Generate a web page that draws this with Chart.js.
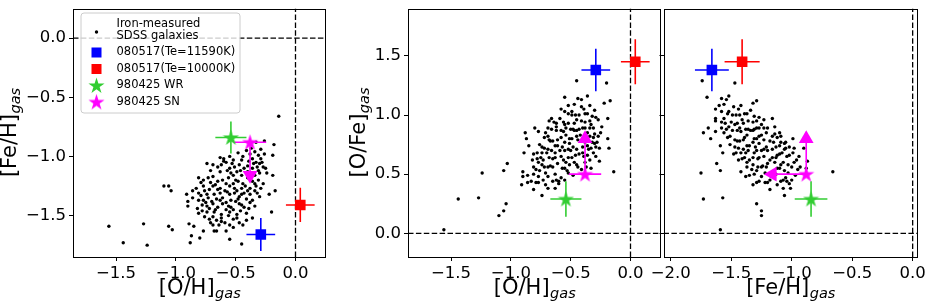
<!DOCTYPE html>
<html>
<head>
<meta charset="utf-8">
<script src="https://cdn.jsdelivr.net/npm/chart.js@4.4.0/dist/chart.umd.min.js"></script>
<style>
  body { margin: 0; background: #fff; width: 926px; height: 306px; overflow: hidden; position: relative; }
  canvas { position: absolute; top: 0; }
</style>
</head>
<body>
<canvas id="p1" width="340" height="306" style="left:0"></canvas>
<canvas id="p2" width="330" height="306" style="left:340px"></canvas>
<canvas id="p3" width="286" height="306" style="left:640px"></canvas>
<script>
// iron-measured SDSS galaxies
const galOH = [
  -0.14, -1.56, -1.44, -1.27, -1.24, -1.10, -1.06, -1.04, -1.06, -1.03,
  -0.91, -0.90, -0.90, -0.89, -0.85, -0.87, -0.88, -0.80, -0.77, -0.68,
  -0.66, -0.55, -0.45, -0.18, -0.19, -0.22, -0.17, -0.20, -0.19, -0.26,
  -0.33, -0.86, -0.81, -0.78, -0.81, -0.78, -0.71, -0.62,
  -0.63, -0.60, -0.55, -0.52, -0.41, -0.38, -0.34, -0.31, -0.29, -0.26, -0.36, -0.33, -0.39, -0.30,
  -0.74, -0.69, -0.65, -0.62, -0.58, -0.55, -0.51, -0.47, -0.43, -0.40, -0.36, -0.31, -0.27, -0.54, -0.49, -0.45, -0.34, -0.30, -0.24,
  -0.81, -0.77, -0.73, -0.69, -0.65, -0.61, -0.56, -0.52, -0.48, -0.44, -0.40, -0.36, -0.31, -0.27, -0.77, -0.69, -0.63, -0.55, -0.51, -0.45, -0.33, -0.38,
  -0.86, -0.81, -0.76, -0.72, -0.68, -0.63, -0.59, -0.55, -0.51, -0.47, -0.43, -0.38, -0.34, -0.30, -0.79, -0.73, -0.66, -0.61, -0.54, -0.48, -0.41,
  -0.75, -0.74, -0.69, -0.65, -0.61, -0.56, -0.52, -0.47, -0.43, -0.38, -0.34, -0.74, -0.68, -0.62, -0.55, -0.49, -0.41,
  -0.72, -0.66, -0.59, -0.52, -0.47, -0.58, -0.52, -0.41, -0.36,
  -0.60, -0.53, -0.45, -0.40, -0.35, -0.28,
  -0.71, -0.63, -0.57, -0.52, -0.46, -0.38, -0.32, -0.25,
  -0.79, -0.71, -0.67, -0.58, -0.50, -0.42, -0.34, -0.29,
  -0.83, -0.74, -0.65, -0.57, -0.49, -0.45, -0.40, -0.32,
  -0.77, -0.70, -0.63, -0.58, -0.50, -0.45, -0.36,
  -0.82, -0.72, -0.67, -0.58, -0.54, -0.46, -0.39,
  -0.76, -0.69, -0.62, -0.56, -0.49, -0.44,
  -0.64, -0.69, -0.55,
  -0.48, -0.44, -0.37, -0.29
];
const galFeH = [
  -0.66, -1.59, -1.73, -1.57, -1.75, -1.25, -1.25, -1.29, -1.59, -1.62,
  -1.32, -1.38, -1.42, -1.57, -1.59, -1.67, -1.73, -1.69, -1.63, -1.63,
  -1.63, -1.70, -1.74, -0.90, -0.99, -1.32, -1.29, -1.47, -1.16, -0.87,
  -0.88, -1.35, -1.37, -1.41, -1.48, -1.46, -1.56, -1.55,
  -1.01, -1.02, -1.00, -1.03, -0.95, -0.98, -0.96, -0.99, -1.02, -0.98, -1.02, -1.05, -1.04, -1.06,
  -1.06, -1.07, -1.09, -1.07, -1.05, -1.10, -1.09, -1.07, -1.10, -1.13, -1.10, -1.12, -1.09, -1.14, -1.13, -1.16, -1.16, -1.14, -1.14,
  -1.18, -1.20, -1.18, -1.17, -1.21, -1.20, -1.18, -1.23, -1.21, -1.23, -1.18, -1.21, -1.20, -1.23, -1.25, -1.25, -1.27, -1.25, -1.27, -1.27, -1.25, -1.27,
  -1.29, -1.31, -1.29, -1.28, -1.32, -1.31, -1.29, -1.32, -1.31, -1.34, -1.31, -1.32, -1.29, -1.34, -1.33, -1.35, -1.36, -1.35, -1.37, -1.36, -1.36,
  -1.39, -1.42, -1.40, -1.43, -1.40, -1.42, -1.45, -1.40, -1.43, -1.39, -1.42, -1.47, -1.47, -1.49, -1.47, -1.49, -1.48,
  -1.53, -1.54, -1.56, -1.53, -1.56, -1.63, -1.60, -1.54, -1.52,
  -1.04, -1.06, -1.03, -1.08, -1.06, -1.05,
  -1.12, -1.13, -1.12, -1.16, -1.12, -1.15, -1.09, -1.10,
  -1.22, -1.22, -1.24, -1.23, -1.20, -1.25, -1.23, -1.27,
  -1.27, -1.32, -1.28, -1.30, -1.29, -1.32, -1.29, -1.31,
  -1.37, -1.38, -1.37, -1.39, -1.38, -1.41, -1.37,
  -1.44, -1.44, -1.45, -1.45, -1.43, -1.46, -1.44,
  -1.51, -1.51, -1.52, -1.50, -1.52, -1.58,
  -1.58, -1.58, -1.58,
  -0.97, -1.00, -0.93, -0.94
];
// [O/Fe] = [O/H] - [Fe/H] for the same galaxies (middle and right panels)
const galOFe = galOH.map((v, i) => +(v - galFeH[i]).toFixed(2));

// GRB host regions
const objNames  = ['080517(Te=11590K)', '080517(Te=10000K)', '980425 WR', '980425 SN'];
const objColors = ['#0000ff', '#ff0000', '#32cd32', '#ff00ff'];
const objOH     = [-0.29, 0.04, -0.54, -0.38];
const objOHerr  = [0.12, 0.12, 0.13, 0.135];
const objFeH    = [-1.66, -1.41, -0.84, -0.88];
const objFeHerr = [0.14, 0.145, 0.135, null];
const objOFe    = [1.38, 1.45, 0.29, 0.50];
const objOFeErr = [0.18, 0.19, 0.15, null];
// 980425 SN only has limits: arrow ends
const objFeHlim = [null, null, null, -1.16];
const objOFelim = [null, null, null, 0.80];

const ohRange  = [-1.86, 0.255];
const fehRange = [-1.85, 0.25];
const ofeRange = [-0.2, 1.9];
const feh3Range = [-2.06, 0.04];

const FONT = 'DejaVu Sans';

function starImage(color, size) {
  const c = document.createElement('canvas');
  c.width = c.height = size;
  const g = c.getContext('2d');
  const R = size / 2, r = R * 0.382;
  g.beginPath();
  for (let i = 0; i < 10; i++) {
    const a = -Math.PI / 2 + i * Math.PI / 5;
    const rr = i % 2 ? r : R;
    g.lineTo(R + rr * Math.cos(a), R + 0.6 + rr * Math.sin(a));
  }
  g.closePath();
  g.fillStyle = color;
  g.fill();
  return c;
}
const objStyles = [
  'rect', 'rect', starImage(objColors[2], 17), starImage(objColors[3], 17)
];

function seg(x1, y1, x2, y2, color, dash) {
  return {
    data: [{x: x1, y: y1}, {x: x2, y: y2}],
    showLine: true, borderColor: color, borderWidth: dash ? 1.3 : 1.6,
    borderDash: dash || [], pointRadius: 0, order: dash ? 20 : 5
  };
}

function buildDatasets(gx, gy, xs, xErr, xLim, ys, yErr, yLim, xr, yr) {
  const sets = [];
  sets.push(seg(0, yr[0], 0, yr[1], '#000', [5.5, 2.4]));
  sets.push(seg(xr[0], 0, xr[1], 0, '#000', [5.5, 2.4]));
  sets.push({
    data: gx.map((v, i) => ({x: v, y: gy[i]})),
    pointStyle: 'circle', pointRadius: 1.7, backgroundColor: '#000',
    borderWidth: 0, order: 10
  });
  xs.forEach((x, i) => {
    const y = ys[i], c = objColors[i];
    if (xErr[i] != null) sets.push(seg(x - xErr[i], y, x + xErr[i], y, c));
    else if (xLim[i] != null) {
      sets.push(seg(x, y, xLim[i], y, c));
      sets.push({data: [{x: xLim[i], y: y}], pointStyle: 'triangle', pointRadius: 8.5,
        pointRotation: xLim[i] < x ? 270 : 90, backgroundColor: c, borderColor: c, borderWidth: 0, order: 4});
    }
    if (yErr[i] != null) sets.push(seg(x, y - yErr[i], x, y + yErr[i], c));
    else if (yLim[i] != null) {
      sets.push(seg(x, y, x, yLim[i], c));
      sets.push({data: [{x: x, y: yLim[i]}], pointStyle: 'triangle', pointRadius: 8.5,
        pointRotation: yLim[i] > y ? 0 : 180, backgroundColor: c, borderColor: c, borderWidth: 0, order: 4});
    }
    sets.push({data: [{x: x, y: y}], pointStyle: objStyles[i], pointRadius: 7.5,
      backgroundColor: c, borderColor: c, borderWidth: 0, order: 1});
  });
  return sets;
}

function fmtTick(v) {
  return v.toFixed(1).replace('-', '\u2212');
}

function axis(range, size, labels) {
  return {
    type: 'linear', min: range[0], max: range[1],
    border: {display: false},
    grid: {display: true, drawOnChartArea: false, drawTicks: true, tickLength: 4, color: '#000', lineWidth: 1},
    ticks: {stepSize: 0.5, includeBounds: false, autoSkip: false, maxRotation: 0, display: labels,
      color: '#000', padding: 3, font: {family: FONT, size: 16.5}, callback: fmtTick},
    afterFit(s) {
      if (s.isHorizontal()) { s.height = size; s.paddingLeft = 0; s.paddingRight = 0; }
      else { s.width = size; s.paddingTop = 0; s.paddingBottom = 0; }
    }
  };
}

function drawSub(ctx, main, sub, x, y, rot) {
  ctx.save();
  ctx.translate(x, y);
  ctx.rotate(rot);
  ctx.fillStyle = '#000';
  ctx.textAlign = 'left';
  ctx.textBaseline = 'alphabetic';
  ctx.font = '21px "' + FONT + '"';
  const w1 = ctx.measureText(main).width;
  ctx.font = 'italic 14.5px "' + FONT + '"';
  const w2 = ctx.measureText(sub).width;
  const x0 = -(w1 + w2) / 2;
  ctx.font = '21px "' + FONT + '"';
  ctx.fillText(main, x0, 0);
  ctx.font = 'italic 14.5px "' + FONT + '"';
  ctx.fillText(sub, x0 + w1 + 0.5, 4);
  ctx.restore();
}

function drawLegend(ctx) {
  const bx = 81, by = 13, bw = 159, bh = 100, r = 3;
  ctx.save();
  ctx.beginPath();
  ctx.moveTo(bx + r, by);
  ctx.arcTo(bx + bw, by, bx + bw, by + bh, r);
  ctx.arcTo(bx + bw, by + bh, bx, by + bh, r);
  ctx.arcTo(bx, by + bh, bx, by, r);
  ctx.arcTo(bx, by, bx + bw, by, r);
  ctx.closePath();
  ctx.fillStyle = 'rgba(255,255,255,0.8)';
  ctx.fill();
  ctx.strokeStyle = '#cccccc';
  ctx.lineWidth = 1;
  ctx.stroke();

  const mx = 96.5, tx = 116.5;
  ctx.font = '11.5px "' + FONT + '"';
  ctx.fillStyle = '#000';
  ctx.textBaseline = 'middle';
  ctx.textAlign = 'left';
  ctx.beginPath();
  ctx.arc(mx, 32, 1.7, 0, Math.PI * 2);
  ctx.fill();
  ctx.fillText('Iron-measured', tx, 24);
  ctx.fillText('SDSS galaxies', tx, 36.5);
  const rows = [52.5, 69, 85.5, 102];
  objNames.forEach((n, i) => {
    const y = rows[i];
    if (objStyles[i] === 'rect') {
      ctx.fillStyle = objColors[i];
      ctx.fillRect(mx - 5, y - 5, 10, 10);
    } else {
      ctx.drawImage(objStyles[i], mx - 8.5, y - 8.5);
    }
    ctx.fillStyle = '#000';
    ctx.fillText(n, tx, y);
  });
  ctx.restore();
}

const panelDecor = {
  id: 'panelDecor',
  afterDraw(chart, args, opts) {
    const ctx = chart.ctx, a = chart.chartArea;
    ctx.save();
    ctx.strokeStyle = '#000';
    ctx.lineWidth = 1;
    ctx.strokeRect(Math.round(a.left) + 0.5, Math.round(a.top) + 0.5,
      Math.round(a.right - a.left) - 1, Math.round(a.bottom - a.top) - 1);
    ctx.restore();
    drawSub(ctx, opts.xTitle[0], opts.xTitle[1], (a.left + a.right) / 2, 294, 0);
    if (opts.yTitle) drawSub(ctx, opts.yTitle[0], opts.yTitle[1], opts.yTitleX, (a.top + a.bottom) / 2, -Math.PI / 2);
    if (opts.legend) drawLegend(ctx);
  }
};

function makePanel(id, datasets, xr, yr, yAxisW, padRight, yLabels, decor) {
  return new Chart(document.getElementById(id), {
    type: 'scatter',
    data: {datasets: datasets},
    options: {
      responsive: false, animation: false, events: [],
      layout: {padding: {left: 0, right: padRight, top: 3, bottom: 0}},
      plugins: {legend: {display: false}, tooltip: {enabled: false}, panelDecor: decor},
      scales: {x: axis(xr, 49, true), y: axis(yr, yAxisW, yLabels)}
    },
    plugins: [panelDecor]
  });
}

makePanel('p1',
  buildDatasets(galOH, galFeH, objOH, objOHerr, [null, null, null, null],
    objFeH, objFeHerr, objFeHlim, ohRange, fehRange),
  ohRange, fehRange, 73, 14, true,
  {xTitle: ['[O/H]', 'gas'], yTitle: ['[Fe/H]', 'gas'], yTitleX: 16, legend: true});

makePanel('p2',
  buildDatasets(galOH, galOFe, objOH, objOHerr, [null, null, null, null],
    objOFe, objOFeErr, objOFelim, ohRange, ofeRange),
  ohRange, ofeRange, 68, 9, true,
  {xTitle: ['[O/H]', 'gas'], yTitle: ['[O/Fe]', 'gas'], yTitleX: 24.5, legend: false});

makePanel('p3',
  buildDatasets(galFeH, galOFe, objFeH, objFeHerr, objFeHlim,
    objOFe, objOFeErr, objOFelim, feh3Range, ofeRange),
  feh3Range, ofeRange, 23.5, 8, false,
  {xTitle: ['[Fe/H]', 'gas'], legend: false});
</script>
</body>
</html>
